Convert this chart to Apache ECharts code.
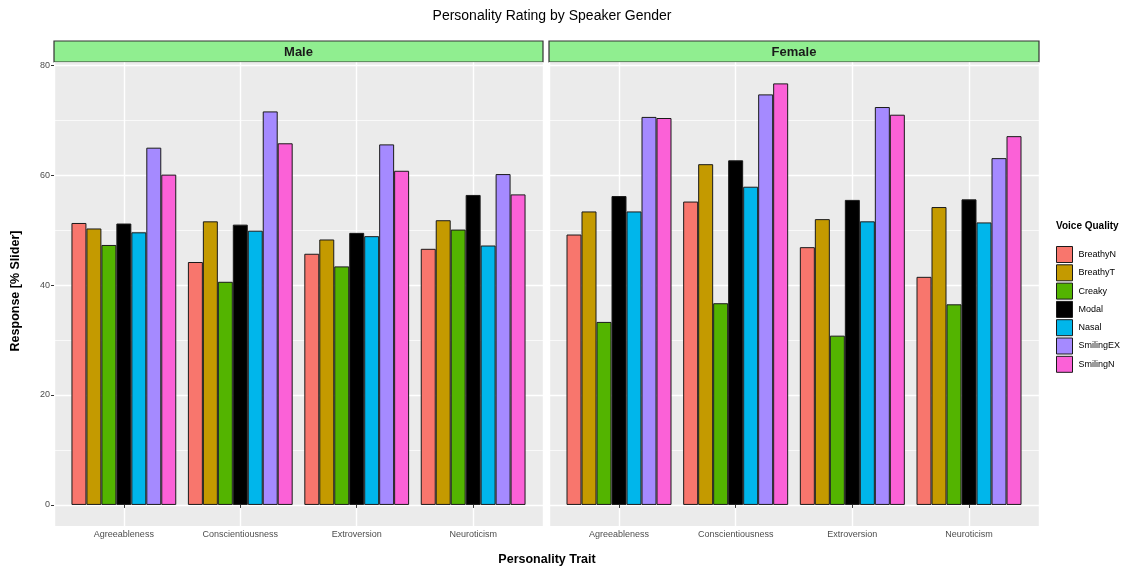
<!DOCTYPE html>
<html>
<head>
<meta charset="utf-8">
<script src="https://cdn.jsdelivr.net/npm/echarts@6/dist/echarts.min.js"></script>
<style>
  html, body { margin: 0; padding: 0; background: #fff; }
  #chart { width: 1125px; height: 567px; }
</style>
</head>
<body>
<div id="chart"></div>
<script>
// Personality traits on the x axis of each facet
const traits = ['Agreeableness', 'Conscientiousness', 'Extroversion', 'Neuroticism'];
const facets = ['Male', 'Female'];
const qualities = ['BreathyN', 'BreathyT', 'Creaky', 'Modal', 'Nasal', 'SmilingEX', 'SmilingN'];
const qualityColors = ['#F8766D', '#C49A00', '#53B400', '#000000', '#00B6EB', '#A58AFF', '#FB61D7'];

// Mean slider response (%) per voice quality, one value per trait
const maleBreathyN  = [51.3, 44.2, 45.7, 46.6];
const maleBreathyT  = [50.3, 51.6, 48.3, 51.8];
const maleCreaky    = [47.3, 40.6, 43.4, 50.1];
const maleModal     = [51.2, 51.0, 49.5, 56.4];
const maleNasal     = [49.6, 49.9, 48.9, 47.2];
const maleSmilingEX = [65.0, 71.6, 65.6, 60.2];
const maleSmilingN  = [60.1, 65.8, 60.8, 56.5];

const femaleBreathyN  = [49.2, 55.2, 46.9, 41.5];
const femaleBreathyT  = [53.4, 62.0, 52.0, 54.2];
const femaleCreaky    = [33.3, 36.7, 30.8, 36.5];
const femaleModal     = [56.2, 62.7, 55.5, 55.6];
const femaleNasal     = [53.4, 57.9, 51.6, 51.4];
const femaleSmilingEX = [70.6, 74.7, 72.4, 63.1];
const femaleSmilingN  = [70.4, 76.7, 71.0, 67.1];

const yTicks = [0, 20, 40, 60, 80];

const seriesByFacet = [
  [maleBreathyN, maleBreathyT, maleCreaky, maleModal, maleNasal, maleSmilingEX, maleSmilingN],
  [femaleBreathyN, femaleBreathyT, femaleCreaky, femaleModal, femaleNasal, femaleSmilingEX, femaleSmilingN]
];

// ---- layout (ggplot-like facets) ----
const FONT = 'Liberation Sans, Arial, Helvetica, sans-serif';
const panelTop = 62.5, panelBottom = 526;
const panels = [{ x: 54, w: 489 }, { x: 549, w: 490 }];
const yMin = -3.835, yMax = 80.5;      // 5% expansion around 0..76.7
const xMin = 0.4, xMax = 4.6;          // discrete axis expansion (0.6 units)

const grids = [], xAxes = [], yAxes = [], series = [], graphics = [];

panels.forEach((p, f) => {
  const unit = p.w / (xMax - xMin);
  // background panel grid
  grids.push({
    left: p.x, top: panelTop, width: p.w, height: panelBottom - panelTop,
    show: true, backgroundColor: '#EBEBEB', borderWidth: 0
  });
  // bar grid: inner band so category slots match the expanded discrete scale
  grids.push({
    left: p.x + (1 - 0.5 - xMin) * unit, top: panelTop,
    width: 4 * unit, height: panelBottom - panelTop,
    show: false
  });
  const bg = f * 2, bar = f * 2 + 1;

  // background x: vertical major lines at trait centres
  xAxes.push({
    type: 'value', gridIndex: bg, min: xMin, max: xMax,
    minInterval: 1, maxInterval: 1,
    axisLine: { show: false }, axisTick: { show: false }, axisLabel: { show: false },
    splitLine: { show: true, lineStyle: { color: '#FFFFFF', width: 1.4 } }
  });
  // bar x: category labels
  xAxes.push({
    type: 'category', gridIndex: bar, data: traits,
    axisLine: { show: false },
    axisTick: { show: true, alignWithLabel: true, length: 3, lineStyle: { color: '#333333', width: 1 } },
    axisLabel: { color: '#4D4D4D', fontSize: 9, fontFamily: FONT, margin: 4 },
    splitLine: { show: false }
  });

  // background y: major lines + labels (left facet only)
  yAxes.push({
    type: 'value', gridIndex: bg, min: yMin, max: yMax,
    minInterval: 20, maxInterval: 20,
    axisLine: { show: false },
    axisTick: { show: f === 0, length: 3, lineStyle: { color: '#333333', width: 1 },
      customValues: yTicks },
    axisLabel: { show: f === 0, color: '#4D4D4D', fontSize: 9, fontFamily: FONT, margin: 4,
      customValues: yTicks },
    splitLine: { show: true, lineStyle: { color: '#FFFFFF', width: 1.4 } }
  });
  // background y: minor lines
  yAxes.push({
    type: 'value', gridIndex: bg, min: yMin, max: yMax,
    minInterval: 10, maxInterval: 10,
    axisLine: { show: false }, axisTick: { show: false }, axisLabel: { show: false },
    splitLine: { show: true, lineStyle: { color: '#FFFFFF', width: 0.7 } }
  });
  // bar y: hidden, same range
  yAxes.push({
    type: 'value', gridIndex: bar, min: yMin, max: yMax,
    show: false, splitLine: { show: false }
  });

  const xBg = f * 2, xBar = f * 2 + 1;
  const yMajor = f * 3, yMinor = f * 3 + 1, yBar = f * 3 + 2;
  // invisible series so the background axes are laid out
  series.push({ type: 'line', xAxisIndex: xBg, yAxisIndex: yMajor, data: [], silent: true });
  series.push({ type: 'line', xAxisIndex: xBg, yAxisIndex: yMinor, data: [], silent: true });

  qualities.forEach((q, i) => {
    series.push({
      name: q, type: 'bar', xAxisIndex: xBar, yAxisIndex: yBar,
      data: seriesByFacet[f][i],
      barGap: '0%', barCategoryGap: '10%',
      itemStyle: { color: qualityColors[i], borderColor: '#1a1a1a', borderWidth: 1 },
      emphasis: { disabled: true },
      z: 3
    });
  });

  // facet strip
  graphics.push({
    type: 'rect', x: p.x, y: 41,
    shape: { x: 0, y: 0, width: p.w, height: 21 },
    style: { fill: '#90EE90', stroke: '#333333', lineWidth: 1.2 }
  });
  graphics.push({
    type: 'text', x: p.x + p.w / 2, y: 52,
    style: { text: facets[f], font: 'bold 13px ' + FONT, fill: '#1A1A1A',
      align: 'center', verticalAlign: 'middle' }
  });
});

// axis titles and legend title
graphics.push({
  type: 'text', x: 547, y: 560,
  style: { text: 'Personality Trait', font: 'bold 12.5px ' + FONT, fill: '#000',
    align: 'center', verticalAlign: 'middle' }
});
graphics.push({
  type: 'text', x: 16, y: 291, rotation: Math.PI / 2,
  style: { text: 'Response [% Slider]', font: 'bold 12.5px ' + FONT, fill: '#000',
    align: 'center', verticalAlign: 'middle' }
});
graphics.push({
  type: 'text', x: 1056, y: 226,
  style: { text: 'Voice Quality', font: 'bold 10px ' + FONT, fill: '#000',
    align: 'left', verticalAlign: 'middle' }
});

const chart = echarts.init(document.getElementById('chart'), null, { renderer: 'canvas' });
chart.setOption({
  animation: false,
  backgroundColor: '#FFFFFF',
  title: {
    text: 'Personality Rating by Speaker Gender',
    left: 547, top: 4, textAlign: 'center',
    textStyle: { fontFamily: FONT, fontSize: 14, fontWeight: 'normal', color: '#000' }
  },
  legend: {
    data: qualities, orient: 'vertical', left: 1056, top: 246, padding: 0,
    itemWidth: 16, itemHeight: 16, itemGap: 1.3, icon: 'rect',
    selectedMode: false,
    itemStyle: { borderColor: '#1a1a1a', borderWidth: 1 },
    textStyle: { fontFamily: FONT, fontSize: 9, color: '#000', padding: [0, 0, 0, 1] }
  },
  grid: grids,
  xAxis: xAxes,
  yAxis: yAxes,
  series: series,
  graphic: graphics
});
</script>
</body>
</html>
